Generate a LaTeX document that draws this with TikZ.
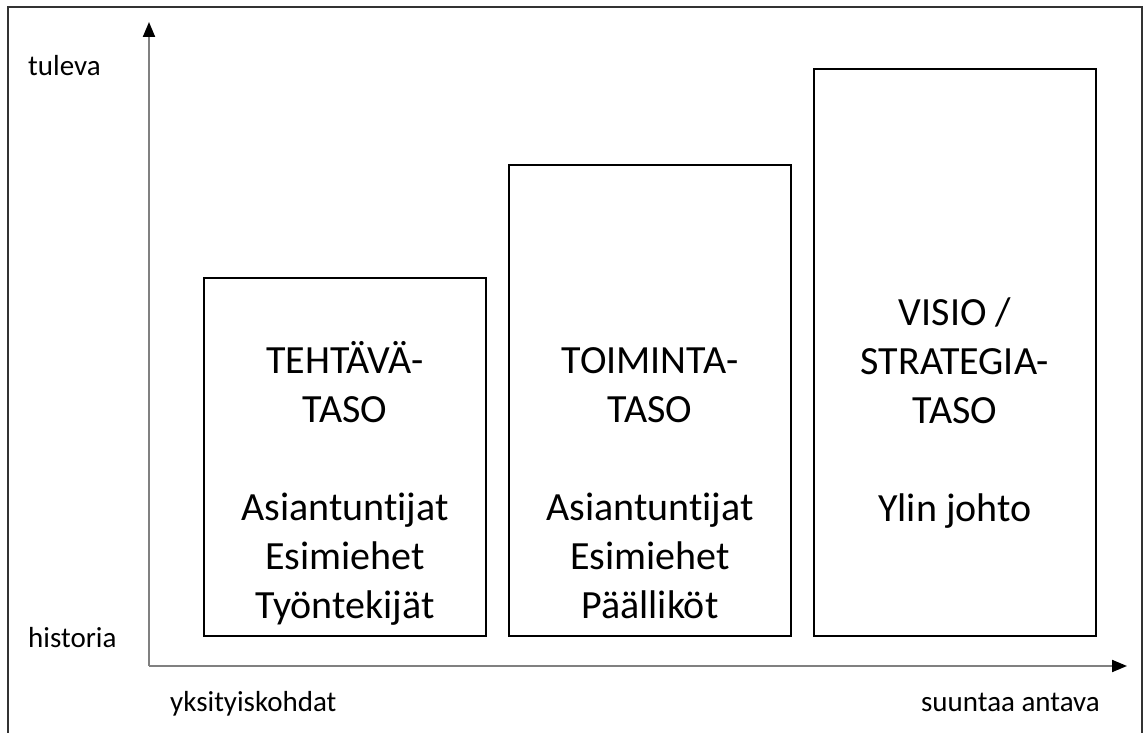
\documentclass[tikz,border=0pt]{standalone}
\usepackage{fontspec}
\setmainfont{Carlito}[Ligatures={NoCommon}]
\usetikzlibrary{arrows.meta}
\begin{document}
\begin{tikzpicture}
% level diagram, units in px
\providecommand{\levelFrameColor}{black!80}
\providecommand{\levelAxisColor}{black!50}
\providecommand{\levelBoxLineWidth}{2.5pt}
\tikzset{
  levelbox/.style={draw=black, line width=\levelBoxLineWidth, minimum width=282pt, inner sep=0pt},
  leveltext/.style={anchor=north, align=center, inner sep=0pt, font=\fontsize{40}{49}\selectfont},
  axislabel/.style={inner sep=0pt, font=\fontsize{29}{35}\selectfont},
  axisline/.style={draw=\levelAxisColor, line width=2pt, -{Triangle[length=15pt,width=12pt,color=black]}}
}
\begin{scope}[x=1pt, y=1pt]
  \useasboundingbox (0,0) rectangle (1143,733);
  % Outer frame, open at the bottom
  \draw[\levelFrameColor, line width=2pt] (8,0) -- (8,726) -- (1142,726) -- (1142,0);
  % Axes
  \coordinate (origin) at (149,67);
  \coordinate (ytip) at (149,711);
  \coordinate (xtip) at (1127,67);
  \draw[axisline] (origin) -- (ytip);
  \draw[axisline] (origin) -- (xtip);
  % Axis labels
  \node[axislabel, anchor=base west] (future) at (28,657) {tuleva};
  \node[axislabel, anchor=base west] (past) at (28,85) {historia};
  \node[axislabel, anchor=base west] (detail) at (170,21) {yksityiskohdat};
  \node[axislabel, anchor=base east] (direction) at (1100,21) {suuntaa antava};
  % Level boxes
  \node[levelbox, minimum height=358pt] (task) at (345,276) {};
  \node[levelbox, minimum height=471pt] (operation) at (650,332.5) {};
  \node[levelbox, minimum height=567pt] (vision) at (955,380.5) {};
  % Box texts (first baseline = north - strut height)
  \node[leveltext] (tasktext) at (345,394.3) {\strut TEHTÄVÄ-\\TASO\\[49pt]Asiantuntijat\\Esimiehet\\Työntekijät};
  \node[leveltext] (operationtext) at (650,394.3) {\strut TOIMINTA-\\TASO\\[49pt]Asiantuntijat\\Esimiehet\\Päälliköt};
  \node[leveltext] (visiontext) at (955,442.3) {\strut VISIO /\\STRATEGIA-\\TASO\\[49pt]Ylin johto};
\end{scope}
\end{tikzpicture}
\end{document}
